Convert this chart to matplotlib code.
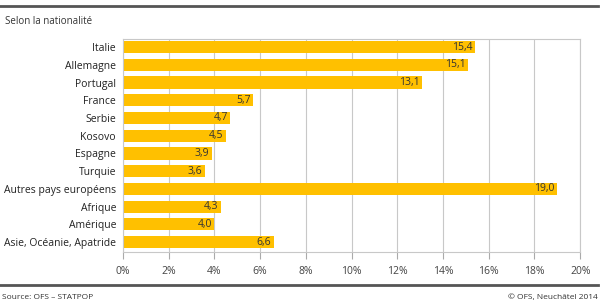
import matplotlib.pyplot as plt
from matplotlib.lines import Line2D

plt.rcParams['font.family'] = ['Open Sans', 'DejaVu Sans']

pays = ['Italie', 'Allemagne', 'Portugal', 'France', 'Serbie', 'Kosovo',
        'Espagne', 'Turquie', 'Autres pays européens', 'Afrique', 'Amérique',
        'Asie, Océanie, Apatride']
parts = [15.4, 15.1, 13.1, 5.7, 4.7, 4.5, 3.9, 3.6, 19.0, 4.3, 4.0, 6.6]
ticks = [0, 2, 4, 6, 8, 10, 12, 14, 16, 18, 20]

fig = plt.figure(figsize=(6, 3.05), dpi=100)
ax = fig.add_axes([0.205, 0.174, 0.762, 0.698])

y = list(range(len(pays)))
ax.barh(y, parts, height=0.68, color='#FFC000', zorder=2)
for i, v in enumerate(parts):
    ax.text(v - 0.12, i, f'{v:.1f}'.replace('.', ','), ha='right', va='center',
            fontsize=7.5, color='#333333', zorder=3)

ax.set_xlim(0, 20)
ax.set_ylim(11.55, -0.45)
ax.set_yticks(y)
ax.set_yticklabels(pays, fontsize=7.5, color='#222222')
ax.set_xticks(ticks)
ax.set_xticklabels([f'{t}%' for t in ticks], fontsize=7.5, color='#444444')
ax.tick_params(axis='y', length=0, pad=5)
ax.tick_params(axis='x', length=5, color='#aaaaaa', pad=5)
ax.grid(axis='x', color='#c8c8c8', linewidth=0.8, zorder=0)
for s in ax.spines.values():
    s.set_color('#c8c8c8')
    s.set_linewidth(0.8)

fig.text(0.008, 0.928, 'Selon la nationalité', fontsize=7, color='#333333',
         va='center')
fig.add_artist(Line2D([0, 0.997], [0.98, 0.98], color='#555555', linewidth=2))
fig.add_artist(Line2D([0, 0.997], [0.066, 0.066], color='#555555', linewidth=2))
fig.text(0.004, 0.026, 'Source: OFS – STATPOP', fontsize=6, color='#333333',
         va='center')
fig.text(0.996, 0.026, '© OFS, Neuchâtel 2014', fontsize=6, color='#333333',
         va='center', ha='right')

fig.savefig('out.png', dpi=100)
